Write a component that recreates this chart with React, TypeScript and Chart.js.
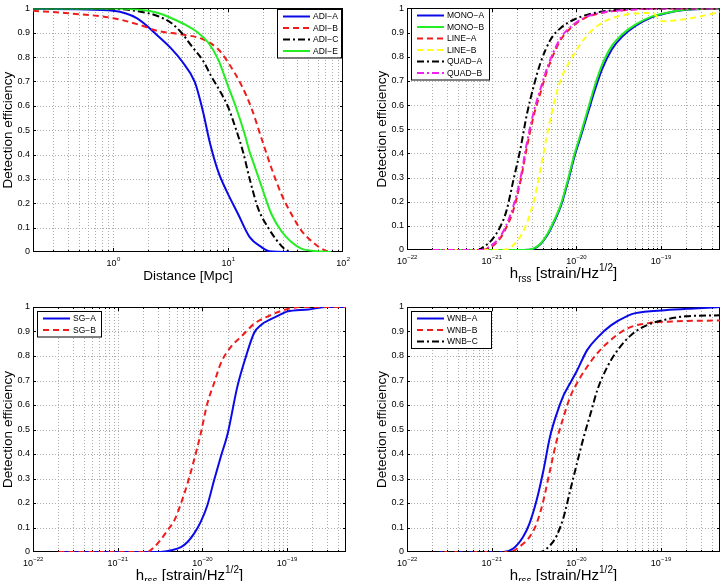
import React, { useEffect, useRef } from 'react';
import { Chart, registerables } from 'chart.js';
Chart.register(...registerables);

const FONT = '"Liberation Sans", Arial, Helvetica, sans-serif';
const MINUS = '\u2212';

// ---------- Panel 1: ADI waveforms vs distance [Mpc] ----------
const adiA_d = [0.2, 0.5, 1, 1.6, 2.46, 3.2, 3.93, 5.13, 6.05, 6.9, 8.2, 9.7, 12.2, 15.4, 19.5, 23, 35];
const adiA_e = [0.998, 0.996, 0.99, 0.96, 0.886, 0.835, 0.785, 0.697, 0.575, 0.453, 0.33, 0.25, 0.156, 0.061, 0.02, 0.003, 0];
const adiB_d = [0.2, 0.38, 1, 1.65, 2.46, 3.93, 6.05, 8.2, 10, 13.1, 16, 19.5, 23.8, 29.1, 35.5, 43.4, 56.7, 69.3, 79];
const adiB_e = [0.99, 0.981, 0.96, 0.934, 0.907, 0.893, 0.873, 0.832, 0.778, 0.683, 0.589, 0.467, 0.345, 0.237, 0.156, 0.088, 0.034, 0.007, 0];
const adiC_d = [0.2, 1, 1.65, 2.46, 3.2, 3.93, 4.8, 6.05, 7.16, 8.5, 10, 11.4, 13.5, 15.4, 18.2, 22.3, 26.3, 31, 35.5];
const adiC_e = [1, 0.998, 0.988, 0.968, 0.94, 0.9, 0.846, 0.785, 0.72, 0.66, 0.595, 0.52, 0.41, 0.3, 0.18, 0.1, 0.05, 0.012, 0];
const adiE_d = [0.2, 1, 1.65, 2.46, 3.2, 4.2, 5.48, 6.7, 8.2, 10, 11.8, 14, 15.4, 16.5, 19.5, 23.8, 29.1, 35.5, 43.4, 56.7, 79];
const adiE_e = [1, 1, 0.995, 0.981, 0.96, 0.934, 0.9, 0.86, 0.79, 0.68, 0.589, 0.48, 0.41, 0.37, 0.27, 0.156, 0.085, 0.041, 0.014, 0.004, 0];

// ---------- Panel 2: MONO / LINE / QUAD vs hrss ----------
const mono_h = [2e-22, 2.4e-21, 3.16e-21, 3.8e-21, 4.6e-21, 5.5e-21, 6.6e-21, 7.9e-21, 9.5e-21, 1.15e-20, 1.38e-20, 1.66e-20, 2e-20, 2.63e-20, 3.47e-20, 5e-20, 7.9e-20, 1.15e-19, 2e-19, 5e-19];
const monoA_e = [0, 0, 0.006, 0.025, 0.064, 0.118, 0.183, 0.277, 0.385, 0.478, 0.57, 0.662, 0.745, 0.83, 0.882, 0.927, 0.964, 0.98, 0.994, 1];
const monoB_e = [0, 0, 0.007, 0.027, 0.068, 0.123, 0.19, 0.286, 0.395, 0.49, 0.586, 0.681, 0.763, 0.845, 0.892, 0.933, 0.967, 0.981, 0.995, 1];
const lineA_h = [2e-22, 7.6e-22, 1e-21, 1.26e-21, 1.5e-21, 1.8e-21, 2.2e-21, 2.6e-21, 3.16e-21, 3.8e-21, 4.6e-21, 5.5e-21, 6.6e-21, 8.7e-21, 1.26e-20, 2.2e-20, 4.6e-20, 1e-19, 5e-19];
const lineA_e = [0, 0, 0.014, 0.048, 0.095, 0.163, 0.286, 0.422, 0.559, 0.654, 0.749, 0.817, 0.872, 0.92, 0.96, 0.984, 0.995, 1, 1];
const lineB_h = [2e-22, 1.38e-21, 1.8e-21, 2.4e-21, 3.16e-21, 3.8e-21, 4.6e-21, 5.5e-21, 6.6e-21, 8.7e-21, 1.15e-20, 1.5e-20, 2.2e-20, 3.8e-20, 7.9e-20, 1.05e-19, 1.8e-19, 2.9e-19, 5e-19];
const lineB_e = [0, 0, 0.02, 0.082, 0.204, 0.34, 0.49, 0.613, 0.708, 0.79, 0.858, 0.906, 0.947, 0.974, 0.981, 0.947, 0.954, 0.967, 0.985];
const quadA_h = [2e-22, 6.9e-22, 7.9e-22, 1e-21, 1.26e-21, 1.5e-21, 1.8e-21, 2.2e-21, 2.6e-21, 3.16e-21, 3.8e-21, 5e-21, 6.6e-21, 9.5e-21, 1.5e-20, 3.2e-20, 7e-20, 5e-19];
const quadA_e = [0, 0, 0.011, 0.041, 0.095, 0.163, 0.286, 0.422, 0.559, 0.681, 0.777, 0.872, 0.92, 0.954, 0.978, 0.995, 1, 1];
const quadB_h = [2e-22, 7.6e-22, 1e-21, 1.26e-21, 1.5e-21, 1.8e-21, 2.2e-21, 2.6e-21, 3.16e-21, 3.8e-21, 4.6e-21, 5.5e-21, 6.6e-21, 8.7e-21, 1.26e-20, 2.2e-20, 4.6e-20, 1e-19, 5e-19];
const quadB_e = [0, 0, 0.02, 0.055, 0.105, 0.18, 0.3, 0.44, 0.575, 0.67, 0.76, 0.827, 0.88, 0.925, 0.962, 0.985, 0.995, 1, 1];

// ---------- Panel 3: SG ----------
const sgA_h = [2e-22, 3.2e-21, 4.3e-21, 5.6e-21, 6.7e-21, 8e-21, 9.6e-21, 1.15e-20, 1.38e-20, 1.66e-20, 2e-20, 2.6e-20, 3.2e-20, 4.1e-20, 5e-20, 6.3e-20, 7.9e-20, 1e-19, 1.8e-19, 3e-19, 5e-19];
const sgA_e = [0, 0, 0.007, 0.02, 0.041, 0.075, 0.123, 0.191, 0.293, 0.39, 0.484, 0.675, 0.785, 0.894, 0.928, 0.948, 0.965, 0.981, 0.99, 1, 1];
const sgB_h = [2e-22, 2.2e-21, 2.7e-21, 3.2e-21, 3.9e-21, 4.7e-21, 5.6e-21, 6.7e-21, 8e-21, 9.6e-21, 1.15e-20, 1.38e-20, 1.66e-20, 2.2e-20, 2.9e-20, 4.2e-20, 6e-20, 9.5e-20, 1.5e-19, 5e-19];
const sgB_e = [0, 0, 0.02, 0.048, 0.089, 0.13, 0.198, 0.28, 0.375, 0.484, 0.607, 0.689, 0.771, 0.839, 0.88, 0.934, 0.962, 0.989, 1, 1];

// ---------- Panel 4: WNB ----------
const wnbA_h = [2e-22, 1.38e-21, 1.8e-21, 2.35e-21, 2.8e-21, 3.4e-21, 4.1e-21, 4.9e-21, 5.9e-21, 7.1e-21, 8.5e-21, 1.02e-20, 1.35e-20, 1.78e-20, 2.57e-20, 4.1e-20, 5e-20, 1.12e-19, 2.8e-19, 5e-19];
const wnbA_e = [0, 0, 0.014, 0.061, 0.116, 0.211, 0.334, 0.471, 0.566, 0.64, 0.69, 0.74, 0.825, 0.875, 0.925, 0.965, 0.975, 0.987, 0.995, 1];
const wnbB_h = [2e-22, 1.66e-21, 2.1e-21, 2.8e-21, 3.4e-21, 4.1e-21, 4.9e-21, 5.9e-21, 7.1e-21, 8.5e-21, 1.02e-20, 1.35e-20, 1.78e-20, 2.57e-20, 4.1e-20, 7.1e-20, 1.35e-19, 5e-19];
const wnbB_e = [0, 0, 0.02, 0.061, 0.116, 0.211, 0.334, 0.457, 0.553, 0.634, 0.689, 0.757, 0.812, 0.866, 0.914, 0.934, 0.941, 0.945];
const wnbC_h = [2e-22, 3.7e-21, 4.9e-21, 5.9e-21, 7.1e-21, 8.5e-21, 1.02e-20, 1.23e-20, 1.48e-20, 1.78e-20, 2.34e-20, 3.1e-20, 4.5e-20, 7.1e-20, 1.12e-19, 1.95e-19, 5e-19];
const wnbC_e = [0, 0, 0.027, 0.068, 0.143, 0.252, 0.362, 0.471, 0.566, 0.662, 0.757, 0.825, 0.887, 0.928, 0.948, 0.962, 0.966];

// tick label exponents
const distTickExps = [0, 1, 2];
const hrssTickExps = [-22, -21, -20, -19];
const yTitle = 'Detection efficiency';

const BLUE = '#0a0ae8';
const RED = '#f01c1c';
const BLACK = '#000000';
const GREEN = '#22ee22';
const YELLOW = '#ffff1a';
const MAGENTA = '#f022f0';
const SOLID: number[] = [];
const DASH = [6, 4];
const DASHDOT = [7, 3, 2, 3];

type Part = { t: string; size: number; dy: number };
type Series = { label: string; x: number[]; y: number[]; color: string; dash: number[] };
type Cfg = {
  left: number; top: number; width: number; height: number;
  area: { l: number; t: number; r: number; b: number };
  xMin: number; xMax: number; tickExps: number[];
  xTitle: Part[];
  legend: { x: number; y: number; w: number };
  series: Series[];
};

const hrssTitle: Part[] = [
  { t: 'h', size: 15, dy: 0 },
  { t: 'rss', size: 10, dy: 4 },
  { t: ' [strain/Hz', size: 15, dy: 0 },
  { t: '1/2', size: 10, dy: -7 },
  { t: ']', size: 15, dy: 0 },
];

const panels: Cfg[] = [
  {
    left: 0, top: 0, width: 362, height: 290,
    area: { l: 33, t: 5, r: 343, b: 252 },
    xMin: 0.2, xMax: 100, tickExps: distTickExps,
    xTitle: [{ t: 'Distance [Mpc]', size: 13.5, dy: 0 }],
    legend: { x: 277, y: 9, w: 64 },
    series: [
      { label: `ADI${MINUS}A`, x: adiA_d, y: adiA_e, color: BLUE, dash: SOLID },
      { label: `ADI${MINUS}B`, x: adiB_d, y: adiB_e, color: RED, dash: DASH },
      { label: `ADI${MINUS}C`, x: adiC_d, y: adiC_e, color: BLACK, dash: DASHDOT },
      { label: `ADI${MINUS}E`, x: adiE_d, y: adiE_e, color: GREEN, dash: SOLID },
    ],
  },
  {
    left: 362, top: 0, width: 362, height: 290,
    area: { l: 45, t: 5, r: 358, b: 250 },
    xMin: 1e-22, xMax: 5e-19, tickExps: hrssTickExps,
    xTitle: hrssTitle,
    legend: { x: 49, y: 8, w: 78 },
    series: [
      { label: `MONO${MINUS}A`, x: mono_h, y: monoA_e, color: BLUE, dash: SOLID },
      { label: `MONO${MINUS}B`, x: mono_h, y: monoB_e, color: GREEN, dash: SOLID },
      { label: `LINE${MINUS}A`, x: lineA_h, y: lineA_e, color: RED, dash: DASH },
      { label: `LINE${MINUS}B`, x: lineB_h, y: lineB_e, color: YELLOW, dash: DASH },
      { label: `QUAD${MINUS}A`, x: quadA_h, y: quadA_e, color: BLACK, dash: DASHDOT },
      { label: `QUAD${MINUS}B`, x: quadB_h, y: quadB_e, color: MAGENTA, dash: DASHDOT },
    ],
  },
  {
    left: 0, top: 290, width: 362, height: 291,
    area: { l: 33, t: 17, r: 346, b: 262 },
    xMin: 1e-22, xMax: 5e-19, tickExps: hrssTickExps,
    xTitle: hrssTitle,
    legend: { x: 37, y: 21, w: 64 },
    series: [
      { label: `SG${MINUS}A`, x: sgA_h, y: sgA_e, color: BLUE, dash: SOLID },
      { label: `SG${MINUS}B`, x: sgB_h, y: sgB_e, color: RED, dash: DASH },
    ],
  },
  {
    left: 362, top: 290, width: 362, height: 291,
    area: { l: 45, t: 17, r: 358, b: 262 },
    xMin: 1e-22, xMax: 5e-19, tickExps: hrssTickExps,
    xTitle: hrssTitle,
    legend: { x: 49, y: 21, w: 80 },
    series: [
      { label: `WNB${MINUS}A`, x: wnbA_h, y: wnbA_e, color: BLUE, dash: SOLID },
      { label: `WNB${MINUS}B`, x: wnbB_h, y: wnbB_e, color: RED, dash: DASH },
      { label: `WNB${MINUS}C`, x: wnbC_h, y: wnbC_e, color: BLACK, dash: DASHDOT },
    ],
  },
];

function logGridValues(min: number, max: number): { v: number; major: boolean }[] {
  const out: { v: number; major: boolean }[] = [];
  const e0 = Math.floor(Math.log10(min) + 1e-9);
  const e1 = Math.ceil(Math.log10(max) - 1e-9);
  for (let e = e0; e <= e1; e++) {
    for (let m = 1; m <= 9; m++) {
      const v = m * Math.pow(10, e);
      if (v >= min * (1 - 1e-9) && v <= max * (1 + 1e-9)) out.push({ v, major: m === 1 });
    }
  }
  return out;
}

function makeDecor(cfg: Cfg) {
  return {
    id: 'decor',
    beforeDatasetsDraw(chart: any) {
      const { ctx, chartArea: a, scales } = chart;
      const xs = scales.x, ys = scales.y;
      const L = Math.round(a.left), R = Math.round(a.right), T = Math.round(a.top), B = Math.round(a.bottom);
      const grid = logGridValues(cfg.xMin, cfg.xMax);
      ctx.save();
      // dotted grid
      ctx.strokeStyle = '#ababab';
      ctx.lineWidth = 1;
      ctx.setLineDash([1, 2]);
      ctx.beginPath();
      for (const g of grid) {
        const px = Math.round(xs.getPixelForValue(g.v)) + 0.5;
        if (px <= L + 1.5 || px >= R - 1.5) continue;
        ctx.moveTo(px, T + 1);
        ctx.lineTo(px, B - 1);
      }
      for (let i = 1; i < 10; i++) {
        const py = Math.round(ys.getPixelForValue(i / 10)) + 0.5;
        ctx.moveTo(L + 1, py);
        ctx.lineTo(R - 1, py);
      }
      ctx.stroke();
      ctx.setLineDash([]);
      // frame
      ctx.strokeStyle = '#000';
      ctx.lineWidth = 1;
      ctx.strokeRect(L + 0.5, T + 0.5, R - L - 1, B - T - 1);
      // tick marks (inward)
      ctx.beginPath();
      for (let i = 1; i < 10; i++) {
        const py = Math.round(ys.getPixelForValue(i / 10)) + 0.5;
        ctx.moveTo(L, py); ctx.lineTo(L + 3, py);
        ctx.moveTo(R, py); ctx.lineTo(R - 3, py);
      }
      for (const g of grid) {
        const px = Math.round(xs.getPixelForValue(g.v)) + 0.5;
        if (px <= L + 1.5 || px >= R - 1.5) continue;
        const len = g.major ? 4 : 2;
        ctx.moveTo(px, B); ctx.lineTo(px, B - len);
        ctx.moveTo(px, T); ctx.lineTo(px, T + len);
      }
      ctx.stroke();
      ctx.restore();
    },
    afterDraw(chart: any) {
      const { ctx, chartArea: a, scales } = chart;
      const xs = scales.x;
      const L = a.left, R = a.right, B = a.bottom;
      ctx.save();
      ctx.fillStyle = '#000';
      ctx.textAlign = 'left';
      ctx.textBaseline = 'alphabetic';
      // x tick labels 10^e
      for (const e of cfg.tickExps) {
        const px = xs.getPixelForValue(Math.pow(10, e));
        const sup = e < 0 ? MINUS + String(-e) : String(e);
        ctx.font = `9px ${FONT}`;
        const wb = ctx.measureText('10').width;
        ctx.font = `6px ${FONT}`;
        const ws = ctx.measureText(sup).width;
        const x0 = px - (wb + ws) / 2;
        ctx.font = `9px ${FONT}`;
        ctx.fillText('10', x0, B + 14);
        ctx.font = `6px ${FONT}`;
        ctx.fillText(sup, x0 + wb + 0.3, B + 9);
      }
      // x title
      let total = 0;
      for (const p of cfg.xTitle) {
        ctx.font = `${p.size}px ${FONT}`;
        total += ctx.measureText(p.t).width;
      }
      let x = (L + R) / 2 - total / 2;
      for (const p of cfg.xTitle) {
        ctx.font = `${p.size}px ${FONT}`;
        ctx.fillText(p.t, x, B + 28 + p.dy);
        x += ctx.measureText(p.t).width;
      }
      // legend
      const ds = chart.data.datasets;
      const n = ds.length;
      const rowH = 11.5;
      const lx = cfg.legend.x, ly = cfg.legend.y, lw = cfg.legend.w;
      const lh = 14 + (n - 1) * rowH;
      ctx.fillStyle = '#fff';
      ctx.fillRect(lx, ly, lw, lh);
      ctx.strokeStyle = '#000';
      ctx.lineWidth = 1;
      ctx.strokeRect(lx + 0.5, ly + 0.5, lw, lh);
      for (let i = 0; i < n; i++) {
        const cy = ly + 7.5 + i * rowH;
        ctx.strokeStyle = ds[i].borderColor;
        ctx.lineWidth = 2;
        ctx.setLineDash(ds[i].borderDash || []);
        ctx.beginPath();
        ctx.moveTo(lx + 6, cy);
        ctx.lineTo(lx + 33, cy);
        ctx.stroke();
        ctx.setLineDash([]);
        ctx.fillStyle = '#000';
        ctx.font = `8.5px ${FONT}`;
        ctx.textBaseline = 'middle';
        ctx.fillText(ds[i].label, lx + 36, cy + 0.5);
      }
      ctx.restore();
    },
  };
}

function Panel({ cfg }: { cfg: Cfg }) {
  const ref = useRef<HTMLCanvasElement>(null);
  useEffect(() => {
    if (!ref.current) return;
    const n = cfg.series.length;
    const titleFont = 13.5;
    const chart = new Chart(ref.current, {
      type: 'line',
      data: {
        datasets: cfg.series.map((s, i) => ({
          label: s.label,
          data: s.x.map((xv, k) => ({ x: xv, y: s.y[k] })),
          borderColor: s.color,
          backgroundColor: s.color,
          borderDash: s.dash,
          borderWidth: 2,
          pointRadius: 0,
          fill: false,
          cubicInterpolationMode: 'monotone',
          borderJoinStyle: 'round',
          borderCapStyle: 'butt',
          order: n - i,
        })),
      },
      options: {
        responsive: false,
        animation: false,
        events: [],
        layout: { padding: { left: 0, top: cfg.area.t, right: cfg.width - cfg.area.r, bottom: 0 } },
        plugins: { legend: { display: false }, tooltip: { enabled: false }, title: { display: false } },
        scales: {
          x: {
            type: 'logarithmic',
            min: cfg.xMin,
            max: cfg.xMax,
            ticks: { display: false },
            grid: { display: false, drawTicks: false },
            border: { display: false },
            afterFit: (s: any) => { s.height = cfg.height - cfg.area.b; },
          },
          y: {
            type: 'linear',
            min: 0,
            max: 1,
            ticks: {
              stepSize: 0.1,
              color: '#000',
              padding: 3,
              font: { family: FONT, size: 9 },
              callback: (v: any) => String(Math.round(Number(v) * 10) / 10),
            },
            grid: { display: false, drawTicks: false },
            border: { display: false },
            title: {
              display: true,
              text: yTitle,
              color: '#000',
              font: { family: FONT, size: titleFont },
              padding: { top: Math.max(0, cfg.area.l - 25 - titleFont * 0.6), bottom: 0 },
            },
            afterFit: (s: any) => { s.width = cfg.area.l; },
          },
        },
      } as any,
      plugins: [makeDecor(cfg)],
    });
    return () => chart.destroy();
  }, [cfg]);
  return (
    <canvas
      ref={ref}
      width={cfg.width}
      height={cfg.height}
      style={{ position: 'absolute', left: cfg.left, top: cfg.top, width: cfg.width, height: cfg.height }}
    />
  );
}

export default function App() {
  return (
    <div style={{ position: 'absolute', left: 0, top: 0, width: 724, height: 581, background: '#fff', overflow: 'hidden' }}>
      {panels.map((p, i) => <Panel key={i} cfg={p} />)}
    </div>
  );
}
